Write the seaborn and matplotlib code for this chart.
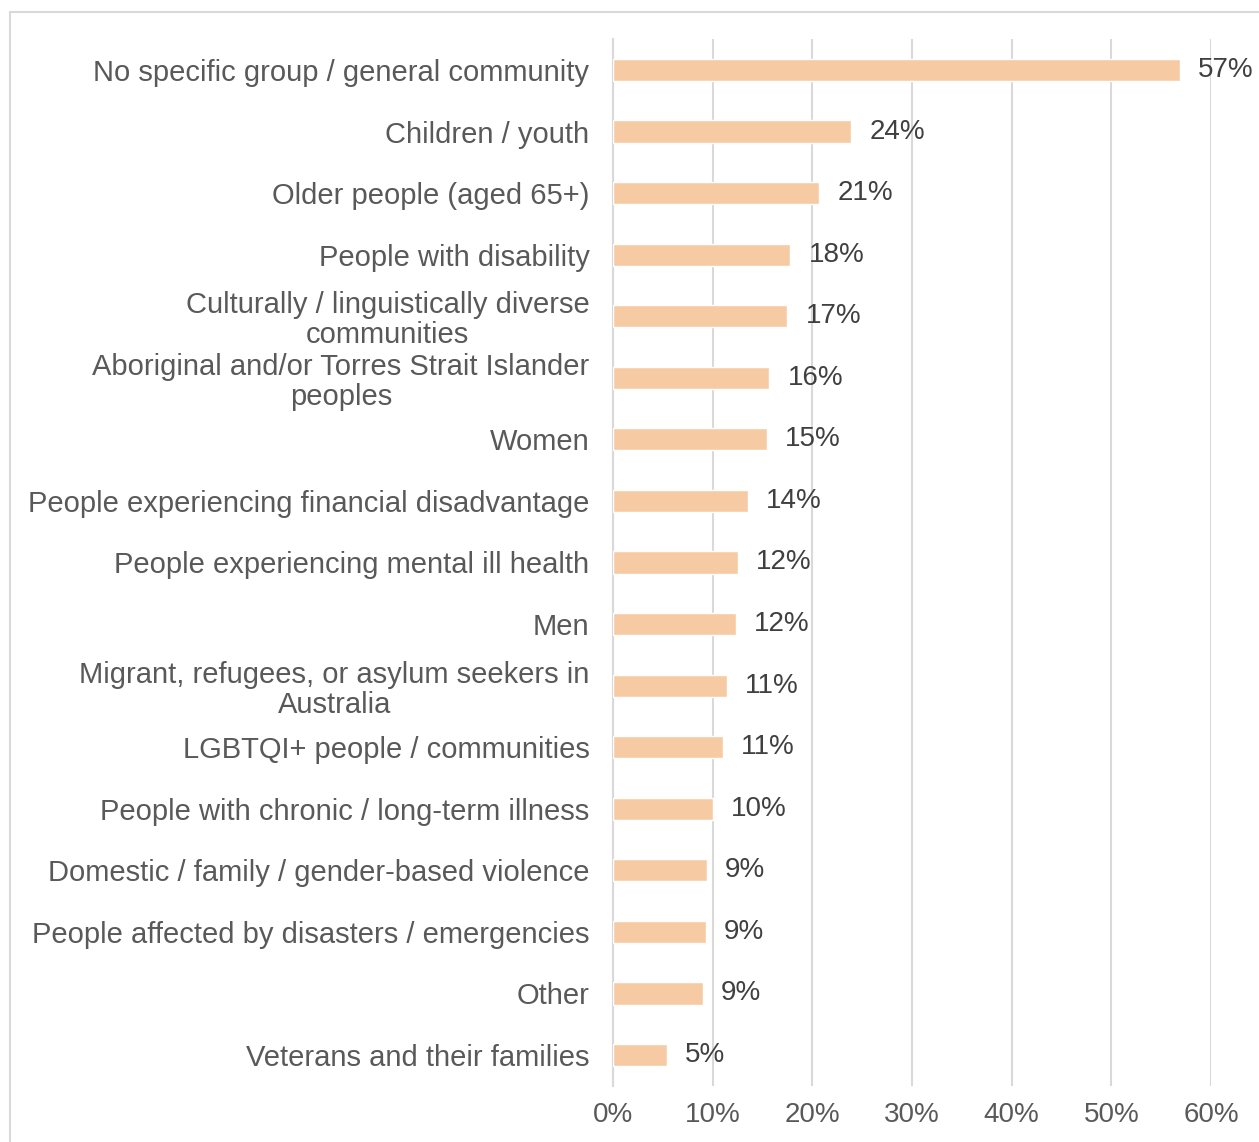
import numpy as np
import pandas as pd
import matplotlib
matplotlib.use("Agg")
import matplotlib.pyplot as plt
import seaborn as sns
from matplotlib.patches import Rectangle
from matplotlib.ticker import PercentFormatter

groups = [
    "No specific group / general community",
    "Children / youth",
    "Older people (aged 65+)",
    "People with disability",
    "Culturally / linguistically diverse\ncommunities",
    "Aboriginal and/or Torres Strait Islander\npeoples",
    "Women",
    "People experiencing financial disadvantage",
    "People experiencing mental ill health",
    "Men",
    "Migrant, refugees, or asylum seekers in\nAustralia",
    "LGBTQI+ people / communities",
    "People with chronic / long-term illness",
    "Domestic / family / gender-based violence",
    "People affected by disasters / emergencies",
    "Other",
    "Veterans and their families",
]
shares = [56.9, 23.9, 20.7, 17.8, 17.5, 15.7, 15.4, 13.5, 12.5, 12.3,
          11.4, 11.0, 10.0, 9.4, 9.3, 9.0, 5.4]
share_labels = ["57%", "24%", "21%", "18%", "17%", "16%", "15%", "14%", "12%",
                "12%", "11%", "11%", "10%", "9%", "9%", "9%", "5%"]

df = pd.DataFrame({"group": groups, "share": shares})

sns.set_theme(style="white")
plt.rcParams["font.family"] = ["Liberation Sans", "DejaVu Sans"]

txt = "#595959"
fig = plt.figure(figsize=(12.59, 11.42), dpi=100)
ax = fig.add_axes([0.4869, 0.0492, 0.4750, 0.9165])

# outer chart frame (cut off at right and bottom like the source)
fig.patches.append(Rectangle((10 / 1259, -0.1), 1.2, 1 - 12 / 1142 + 0.1,
                             transform=fig.transFigure, fill=False,
                             edgecolor="#D9D9D9", linewidth=1.5, zorder=0))

sns.barplot(data=df, x="share", y="group", color="#F6CBA3", saturation=1,
            width=0.36, ax=ax, zorder=3)

ax.bar_label(ax.containers[0], labels=share_labels, padding=13,
             fontsize=20, color="#404040")

ax.set_xlim(0, 60)
ax.set_ylim(len(groups) - 0.5, -0.5)
ax.set_xticks(np.arange(0, 61, 10))
ax.xaxis.set_major_formatter(PercentFormatter(decimals=0))
ax.grid(axis="x", color="#D9D9D9", linewidth=1.5, zorder=0)
ax.grid(axis="y", visible=False)
for s in ["top", "right", "bottom"]:
    ax.spines[s].set_visible(False)
ax.spines["left"].set_color("#D9D9D9")
ax.spines["left"].set_linewidth(1.5)

ax.set_xlabel("")
ax.set_ylabel("")
ax.tick_params(axis="x", labelsize=20, labelcolor=txt, length=0, pad=12)
ax.tick_params(axis="y", labelsize=21, labelcolor=txt, length=0, pad=17)
for lab in ax.get_yticklabels():
    lab.set_multialignment("center")
    lab.set_linespacing(1.1)
    lab.set_fontstretch("expanded")

fig.savefig("out.png", dpi=100)
